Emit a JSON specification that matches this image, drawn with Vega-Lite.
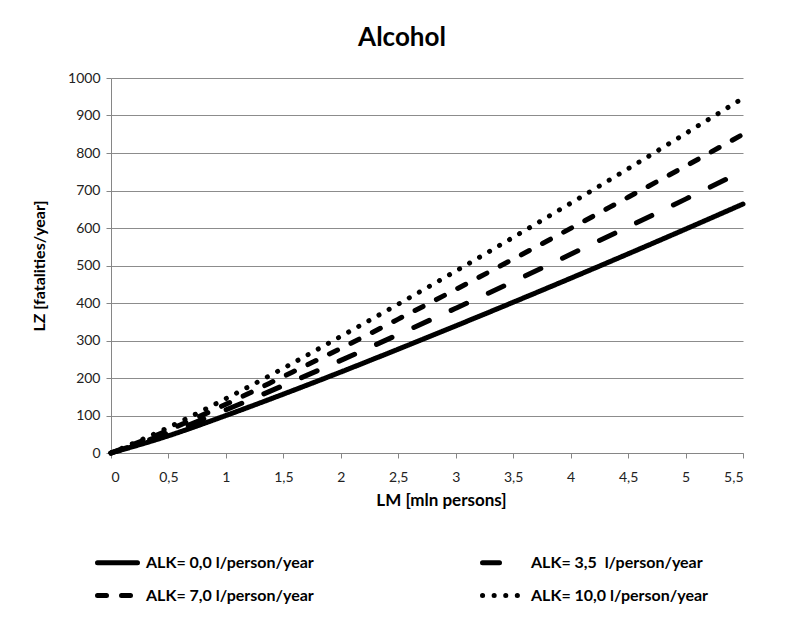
{
  "$schema": "https://vega.github.io/schema/vega-lite/v6.json",
  "width": 632,
  "height": 375,
  "autosize": {"type": "none"},
  "padding": {"left": 111, "top": 78, "right": 48, "bottom": 165},
  "background": "white",
  "title": {"text": "Alcohol", "fontSize": 26, "font": "Lato", "fontWeight": "bold", "color": "#000", "offset": 20, "dx": -25},
  "config": {
    "view": {"stroke": null},
    "axis": {"labelFont": "Lato", "titleFont": "Lato", "labelFontSize": 14, "titleFontSize": 16, "titleFontWeight": "bold", "labelColor": "#222", "titleColor": "#000", "domainColor": "#868686", "tickColor": "#868686", "gridColor": "#8c8c8c"},
    "legend": {"labelFont": "Lato", "labelFontSize": 16, "labelFontWeight": "bold", "labelColor": "#000", "labelLimit": 400}
  },
  "data": {"values": [
    {"series": "ALK= 0,0 l/person/year", "LM": 0, "LZ": 0},
    {"series": "ALK= 0,0 l/person/year", "LM": 0.5, "LZ": 46},
    {"series": "ALK= 0,0 l/person/year", "LM": 1, "LZ": 100},
    {"series": "ALK= 0,0 l/person/year", "LM": 1.5, "LZ": 157},
    {"series": "ALK= 0,0 l/person/year", "LM": 2, "LZ": 216},
    {"series": "ALK= 0,0 l/person/year", "LM": 2.5, "LZ": 277},
    {"series": "ALK= 0,0 l/person/year", "LM": 3, "LZ": 339},
    {"series": "ALK= 0,0 l/person/year", "LM": 3.5, "LZ": 402},
    {"series": "ALK= 0,0 l/person/year", "LM": 4, "LZ": 466},
    {"series": "ALK= 0,0 l/person/year", "LM": 4.5, "LZ": 531},
    {"series": "ALK= 0,0 l/person/year", "LM": 5, "LZ": 597},
    {"series": "ALK= 0,0 l/person/year", "LM": 5.5, "LZ": 664},
    {"series": "ALK= 3,5\u00a0 l/person/year", "LM": 0, "LZ": 0},
    {"series": "ALK= 3,5\u00a0 l/person/year", "LM": 0.5, "LZ": 54},
    {"series": "ALK= 3,5\u00a0 l/person/year", "LM": 1, "LZ": 115},
    {"series": "ALK= 3,5\u00a0 l/person/year", "LM": 1.5, "LZ": 180},
    {"series": "ALK= 3,5\u00a0 l/person/year", "LM": 2, "LZ": 247},
    {"series": "ALK= 3,5\u00a0 l/person/year", "LM": 2.5, "LZ": 316},
    {"series": "ALK= 3,5\u00a0 l/person/year", "LM": 3, "LZ": 386},
    {"series": "ALK= 3,5\u00a0 l/person/year", "LM": 3.5, "LZ": 457},
    {"series": "ALK= 3,5\u00a0 l/person/year", "LM": 4, "LZ": 530},
    {"series": "ALK= 3,5\u00a0 l/person/year", "LM": 4.5, "LZ": 603},
    {"series": "ALK= 3,5\u00a0 l/person/year", "LM": 5, "LZ": 677},
    {"series": "ALK= 3,5\u00a0 l/person/year", "LM": 5.5, "LZ": 752},
    {"series": "ALK= 7,0 l/person/year", "LM": 0, "LZ": 0},
    {"series": "ALK= 7,0 l/person/year", "LM": 0.5, "LZ": 61},
    {"series": "ALK= 7,0 l/person/year", "LM": 1, "LZ": 130},
    {"series": "ALK= 7,0 l/person/year", "LM": 1.5, "LZ": 204},
    {"series": "ALK= 7,0 l/person/year", "LM": 2, "LZ": 279},
    {"series": "ALK= 7,0 l/person/year", "LM": 2.5, "LZ": 357},
    {"series": "ALK= 7,0 l/person/year", "LM": 3, "LZ": 436},
    {"series": "ALK= 7,0 l/person/year", "LM": 3.5, "LZ": 517},
    {"series": "ALK= 7,0 l/person/year", "LM": 4, "LZ": 599},
    {"series": "ALK= 7,0 l/person/year", "LM": 4.5, "LZ": 682},
    {"series": "ALK= 7,0 l/person/year", "LM": 5, "LZ": 765},
    {"series": "ALK= 7,0 l/person/year", "LM": 5.5, "LZ": 850},
    {"series": "ALK= 10,0 l/person/year", "LM": 0, "LZ": 0},
    {"series": "ALK= 10,0 l/person/year", "LM": 0.5, "LZ": 68},
    {"series": "ALK= 10,0 l/person/year", "LM": 1, "LZ": 145},
    {"series": "ALK= 10,0 l/person/year", "LM": 1.5, "LZ": 226},
    {"series": "ALK= 10,0 l/person/year", "LM": 2, "LZ": 311},
    {"series": "ALK= 10,0 l/person/year", "LM": 2.5, "LZ": 397},
    {"series": "ALK= 10,0 l/person/year", "LM": 3, "LZ": 485},
    {"series": "ALK= 10,0 l/person/year", "LM": 3.5, "LZ": 575},
    {"series": "ALK= 10,0 l/person/year", "LM": 4, "LZ": 666},
    {"series": "ALK= 10,0 l/person/year", "LM": 4.5, "LZ": 758},
    {"series": "ALK= 10,0 l/person/year", "LM": 5, "LZ": 852},
    {"series": "ALK= 10,0 l/person/year", "LM": 5.5, "LZ": 946}
  ]},
  "mark": {"type": "line", "color": "#000", "strokeWidth": 5, "strokeCap": "round", "interpolate": "monotone"},
  "encoding": {
    "x": {"field": "LM", "type": "quantitative",
      "scale": {"domain": [0, 5.5], "nice": false},
      "axis": {"title": "LM [mln persons]", "titleFontSize": 17, "values": [0, 0.5, 1, 1.5, 2, 2.5, 3, 3.5, 4, 4.5, 5, 5.5], "labelExpr": "replace(format(datum.value, '~g'), '.', ',')", "grid": false, "tickSize": 5, "labelPadding": 12, "titlePadding": 8, "titleX": 330}},
    "y": {"field": "LZ", "type": "quantitative",
      "scale": {"domain": [0, 1000], "nice": false},
      "axis": {"title": "LZ [fatalities/year]", "format": "d", "values": [0, 100, 200, 300, 400, 500, 600, 700, 800, 900, 1000], "tickSize": 5, "labelPadding": 6, "titlePadding": 20, "domain": true}},
    "strokeDash": {"field": "series", "type": "nominal",
      "sort": ["ALK= 0,0 l/person/year", "ALK= 3,5\u00a0 l/person/year", "ALK= 7,0 l/person/year", "ALK= 10,0 l/person/year"],
      "scale": {"domain": ["ALK= 0,0 l/person/year", "ALK= 3,5\u00a0 l/person/year", "ALK= 7,0 l/person/year", "ALK= 10,0 l/person/year"],
        "range": [[1, 0], [17, 24], [9, 15], [0.1, 11.5]]},
      "legend": {"title": null, "orient": "none", "direction": "horizontal", "legendX": -16, "legendY": 462, "columns": 2, "columnPadding": 158, "rowPadding": -25, "symbolType": "stroke", "symbolSize": 1600, "symbolStrokeWidth": 5, "symbolStrokeColor": "#000", "labelOffset": 6,
        "encode": {"symbols": {"update": {"strokeCap": {"value": "round"}}}}}}
  }
}
